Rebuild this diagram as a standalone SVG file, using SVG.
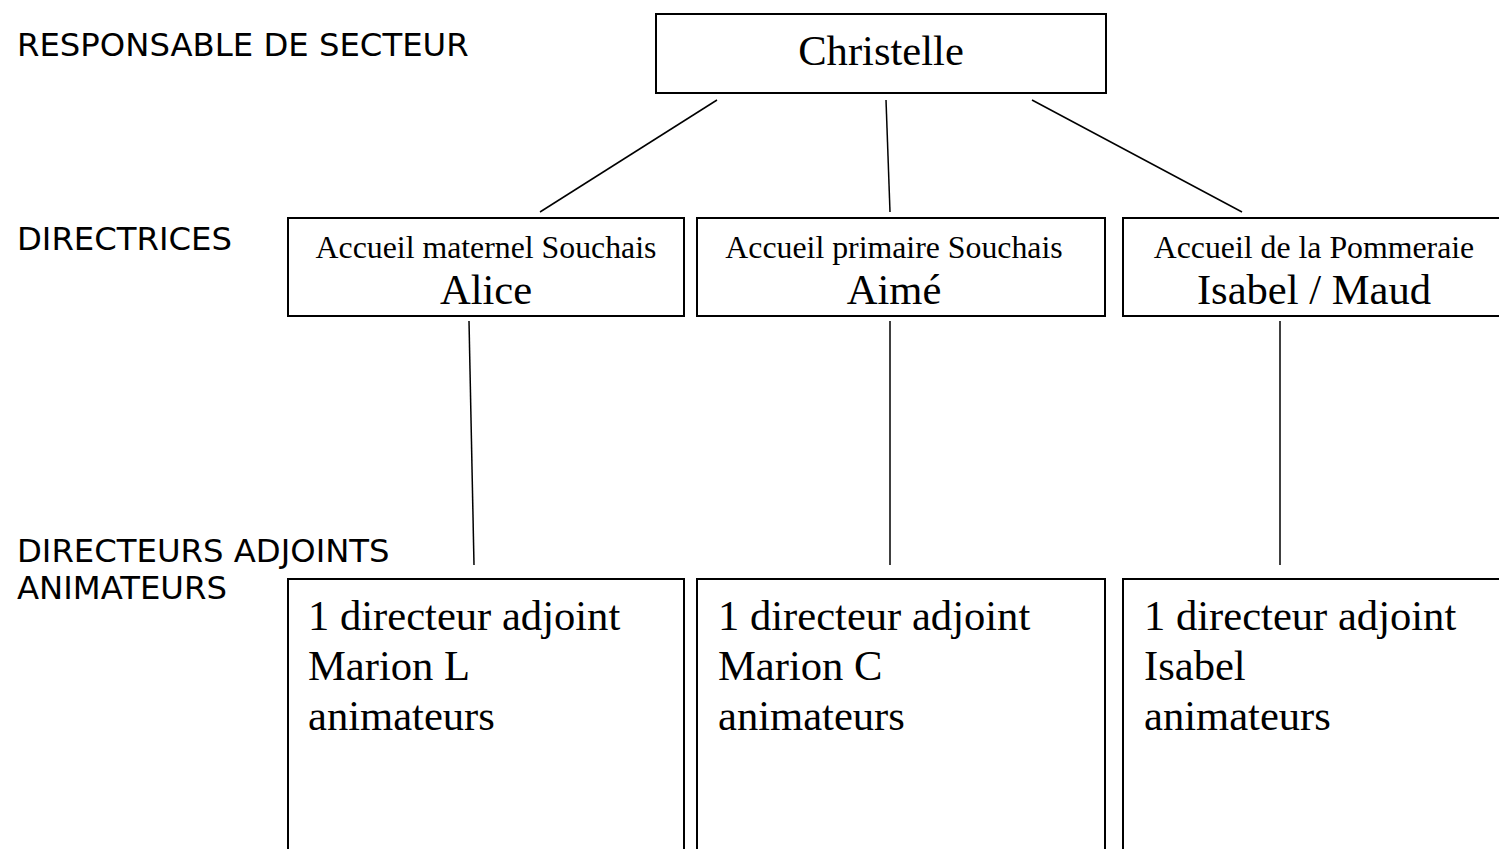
<svg xmlns="http://www.w3.org/2000/svg" width="1499" height="849" viewBox="0 0 1499 849">
<style>
.lbl{font-family:"DejaVu Sans",sans-serif;font-size:32.3px;fill:#000}
.box{fill:#fff;stroke:#000;stroke-width:2}
.s{font-family:"Liberation Serif",serif;font-size:31.8px;fill:#000}
.b{font-family:"Liberation Serif",serif;font-size:42.6px;fill:#000}
.ln{stroke:#000;stroke-width:1.5;fill:none}
</style>
<rect width="1499" height="849" fill="#fff"/>
<g id="labels">
<text class="lbl" x="17" y="56">RESPONSABLE DE SECTEUR</text>
<text class="lbl" x="17" y="250">DIRECTRICES</text>
<text class="lbl" x="17" y="562">DIRECTEURS ADJOINTS</text>
<text class="lbl" x="17" y="599">ANIMATEURS</text>
</g>
<g id="connectors">
<line class="ln" x1="717" y1="100" x2="540" y2="212"/>
<line class="ln" x1="886" y1="100" x2="890" y2="212"/>
<line class="ln" x1="1032" y1="100" x2="1242" y2="212"/>
<line class="ln" x1="469" y1="321" x2="474" y2="565"/>
<line class="ln" x1="890" y1="321" x2="890" y2="565"/>
<line class="ln" x1="1280" y1="321" x2="1280" y2="565"/>
</g>
<g id="christelle">
<rect class="box" x="656" y="14" width="450" height="79"/>
<text class="b" x="881" y="65" text-anchor="middle">Christelle</text>
</g>
<g id="alice">
<rect class="box" x="288" y="218" width="396" height="98"/>
<text class="s" x="486" y="258" text-anchor="middle">Accueil maternel Souchais</text>
<text class="b" x="486" y="304" text-anchor="middle">Alice</text>
</g>
<g id="aime">
<rect class="box" x="697" y="218" width="408" height="98"/>
<text class="s" x="894" y="258" text-anchor="middle">Accueil primaire Souchais</text>
<text class="b" x="894" y="304" text-anchor="middle">Aimé</text>
</g>
<g id="isabel-maud">
<rect class="box" x="1123" y="218" width="390" height="98"/>
<text class="s" x="1314" y="258" text-anchor="middle">Accueil de la Pommeraie</text>
<text class="b" x="1314" y="304" text-anchor="middle">Isabel / Maud</text>
</g>
<g id="team-alice">
<rect class="box" x="288" y="579" width="396" height="290"/>
<text class="b" x="308" y="630">1 directeur adjoint</text>
<text class="b" x="308" y="680">Marion L</text>
<text class="b" x="308" y="730">animateurs</text>
</g>
<g id="team-aime">
<rect class="box" x="697" y="579" width="408" height="290"/>
<text class="b" x="718" y="630">1 directeur adjoint</text>
<text class="b" x="718" y="680">Marion C</text>
<text class="b" x="718" y="730">animateurs</text>
</g>
<g id="team-isabel">
<rect class="box" x="1123" y="579" width="390" height="290"/>
<text class="b" x="1144" y="630">1 directeur adjoint</text>
<text class="b" x="1144" y="680">Isabel</text>
<text class="b" x="1144" y="730">animateurs</text>
</g>
</svg>
